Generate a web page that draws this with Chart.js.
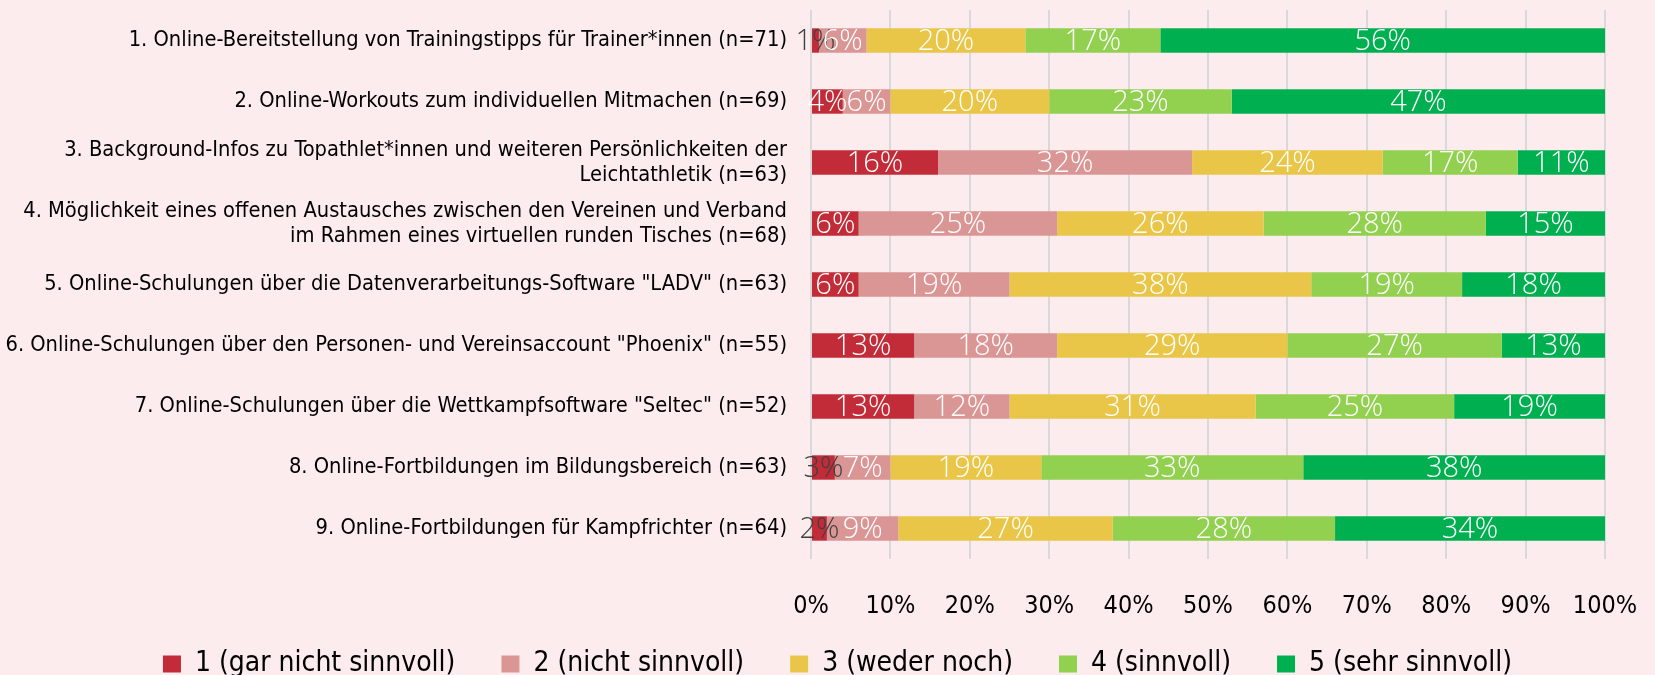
<!DOCTYPE html>
<html>
<head>
<meta charset="utf-8">
<script src="https://cdn.jsdelivr.net/npm/chart.js@4.4.1/dist/chart.umd.min.js"></script>
<style>
  html, body { margin: 0; padding: 0; background: #FDECEE; }
  #wrap { width: 1655px; height: 675px; }
</style>
</head>
<body>
<div id="wrap"><canvas id="c" width="1655" height="675"></canvas></div>
<script>
const categories = [
  '1. Online-Bereitstellung von Trainingstipps für Trainer*innen (n=71)',
  '2. Online-Workouts zum individuellen Mitmachen (n=69)',
  ['3. Background-Infos zu Topathlet*innen und weiteren Persönlichkeiten der', 'Leichtathletik (n=63)'],
  ['4. Möglichkeit eines offenen Austausches zwischen den Vereinen und Verband', 'im Rahmen eines virtuellen runden Tisches (n=68)'],
  '5. Online-Schulungen über die Datenverarbeitungs-Software "LADV" (n=63)',
  '6. Online-Schulungen über den Personen- und Vereinsaccount "Phoenix" (n=55)',
  '7. Online-Schulungen über die Wettkampfsoftware "Seltec" (n=52)',
  '8. Online-Fortbildungen im Bildungsbereich (n=63)',
  '9. Online-Fortbildungen für Kampfrichter (n=64)'
];
const seriesNames = ['1 (gar nicht sinnvoll)', '2 (nicht sinnvoll)', '3 (weder noch)', '4 (sinnvoll)', '5 (sehr sinnvoll)'];
const s1 = [1, 4, 16, 6, 6, 13, 13, 3, 2];
const s2 = [6, 6, 32, 25, 19, 18, 12, 7, 9];
const s3 = [20, 20, 24, 26, 38, 29, 31, 19, 27];
const s4 = [17, 23, 17, 28, 19, 27, 25, 33, 28];
const s5 = [56, 47, 11, 15, 18, 13, 19, 38, 34];
const xTicks = [0, 10, 20, 30, 40, 50, 60, 70, 80, 90, 100];
const colors = ['#C12C38', '#DA9694', '#E9C647', '#92D050', '#00B050'];

const NARROW = '"Liberation Sans Narrow", "Arial Narrow", "DejaVu Sans Condensed", sans-serif';

const labelPlugin = {
  id: 'barLabels',
  afterDatasetsDraw(chart) {
    const ctx = chart.ctx;
    ctx.save();
    ctx.font = '300 29px "Open Sans", sans-serif';
    ctx.textAlign = 'center';
    ctx.textBaseline = 'middle';
    chart.data.datasets.forEach((ds, di) => {
      const meta = chart.getDatasetMeta(di);
      meta.data.forEach((el, i) => {
        const v = ds.data[i];
        const p = el.getProps(['x', 'y', 'base'], true);
        ctx.fillStyle = v <= 3 ? '#404040' : '#FFFFFF';
        ctx.fillText(v + '%', (p.x + p.base) / 2, p.y + 1);
      });
    });
    ctx.restore();
  }
};

// place the legend row (centred slightly right of the canvas centre, close to the bottom edge)
const legendPlace = {
  id: 'legendPlace',
  afterLayout(chart) {
    const lg = chart.legend;
    const h = lg.bottom - lg.top;
    lg.top = 604;
    lg.bottom = 604 + h;
    lg.left += 35;
    lg.right += 35;
  }
};

const arrays = [s1, s2, s3, s4, s5];
new Chart(document.getElementById('c'), {
  type: 'bar',
  data: {
    labels: categories,
    datasets: arrays.map((a, i) => ({
      label: seriesNames[i],
      data: a,
      backgroundColor: colors[i],
      borderWidth: 0,
      barPercentage: 0.4,
      categoryPercentage: 1.0
    }))
  },
  options: {
    indexAxis: 'y',
    responsive: false,
    animation: false,
    devicePixelRatio: 1,
    layout: { padding: { left: 0, right: 50, top: 10, bottom: -28 } },
    plugins: {
      tooltip: { enabled: false },
      legend: {
        position: 'bottom',
        align: 'center',
        labels: {
          boxWidth: 18,
          boxHeight: 17,
          padding: 46,
          color: '#000000',
          font: { family: NARROW, size: 28 }
        }
      }
    },
    scales: {
      x: {
        stacked: true,
        min: 0,
        max: 100,
        afterBuildTicks: (s) => { s.ticks = xTicks.map(v => ({ value: v })); },
        afterFit: (s) => { s.height = 60; s.paddingLeft = 0; s.paddingRight = 0; },
        grid: { color: '#D9D9D9', lineWidth: 2, drawTicks: false },
        border: { display: false },
        ticks: {
          padding: 32,
          color: '#000000',
          font: { family: NARROW, size: 25 },
          callback: (v) => v + '%'
        }
      },
      y: {
        stacked: true,
        afterFit: (s) => { s.width = 811; s.paddingTop = 0; s.paddingBottom = 0; },
        grid: { display: false, drawTicks: false },
        border: { display: false },
        ticks: {
          padding: 24,
          color: '#000000',
          font: { family: NARROW, size: 21.7, lineHeight: 1.15 }
        }
      }
    }
  },
  plugins: [labelPlugin, legendPlace]
});
</script>
</body>
</html>
